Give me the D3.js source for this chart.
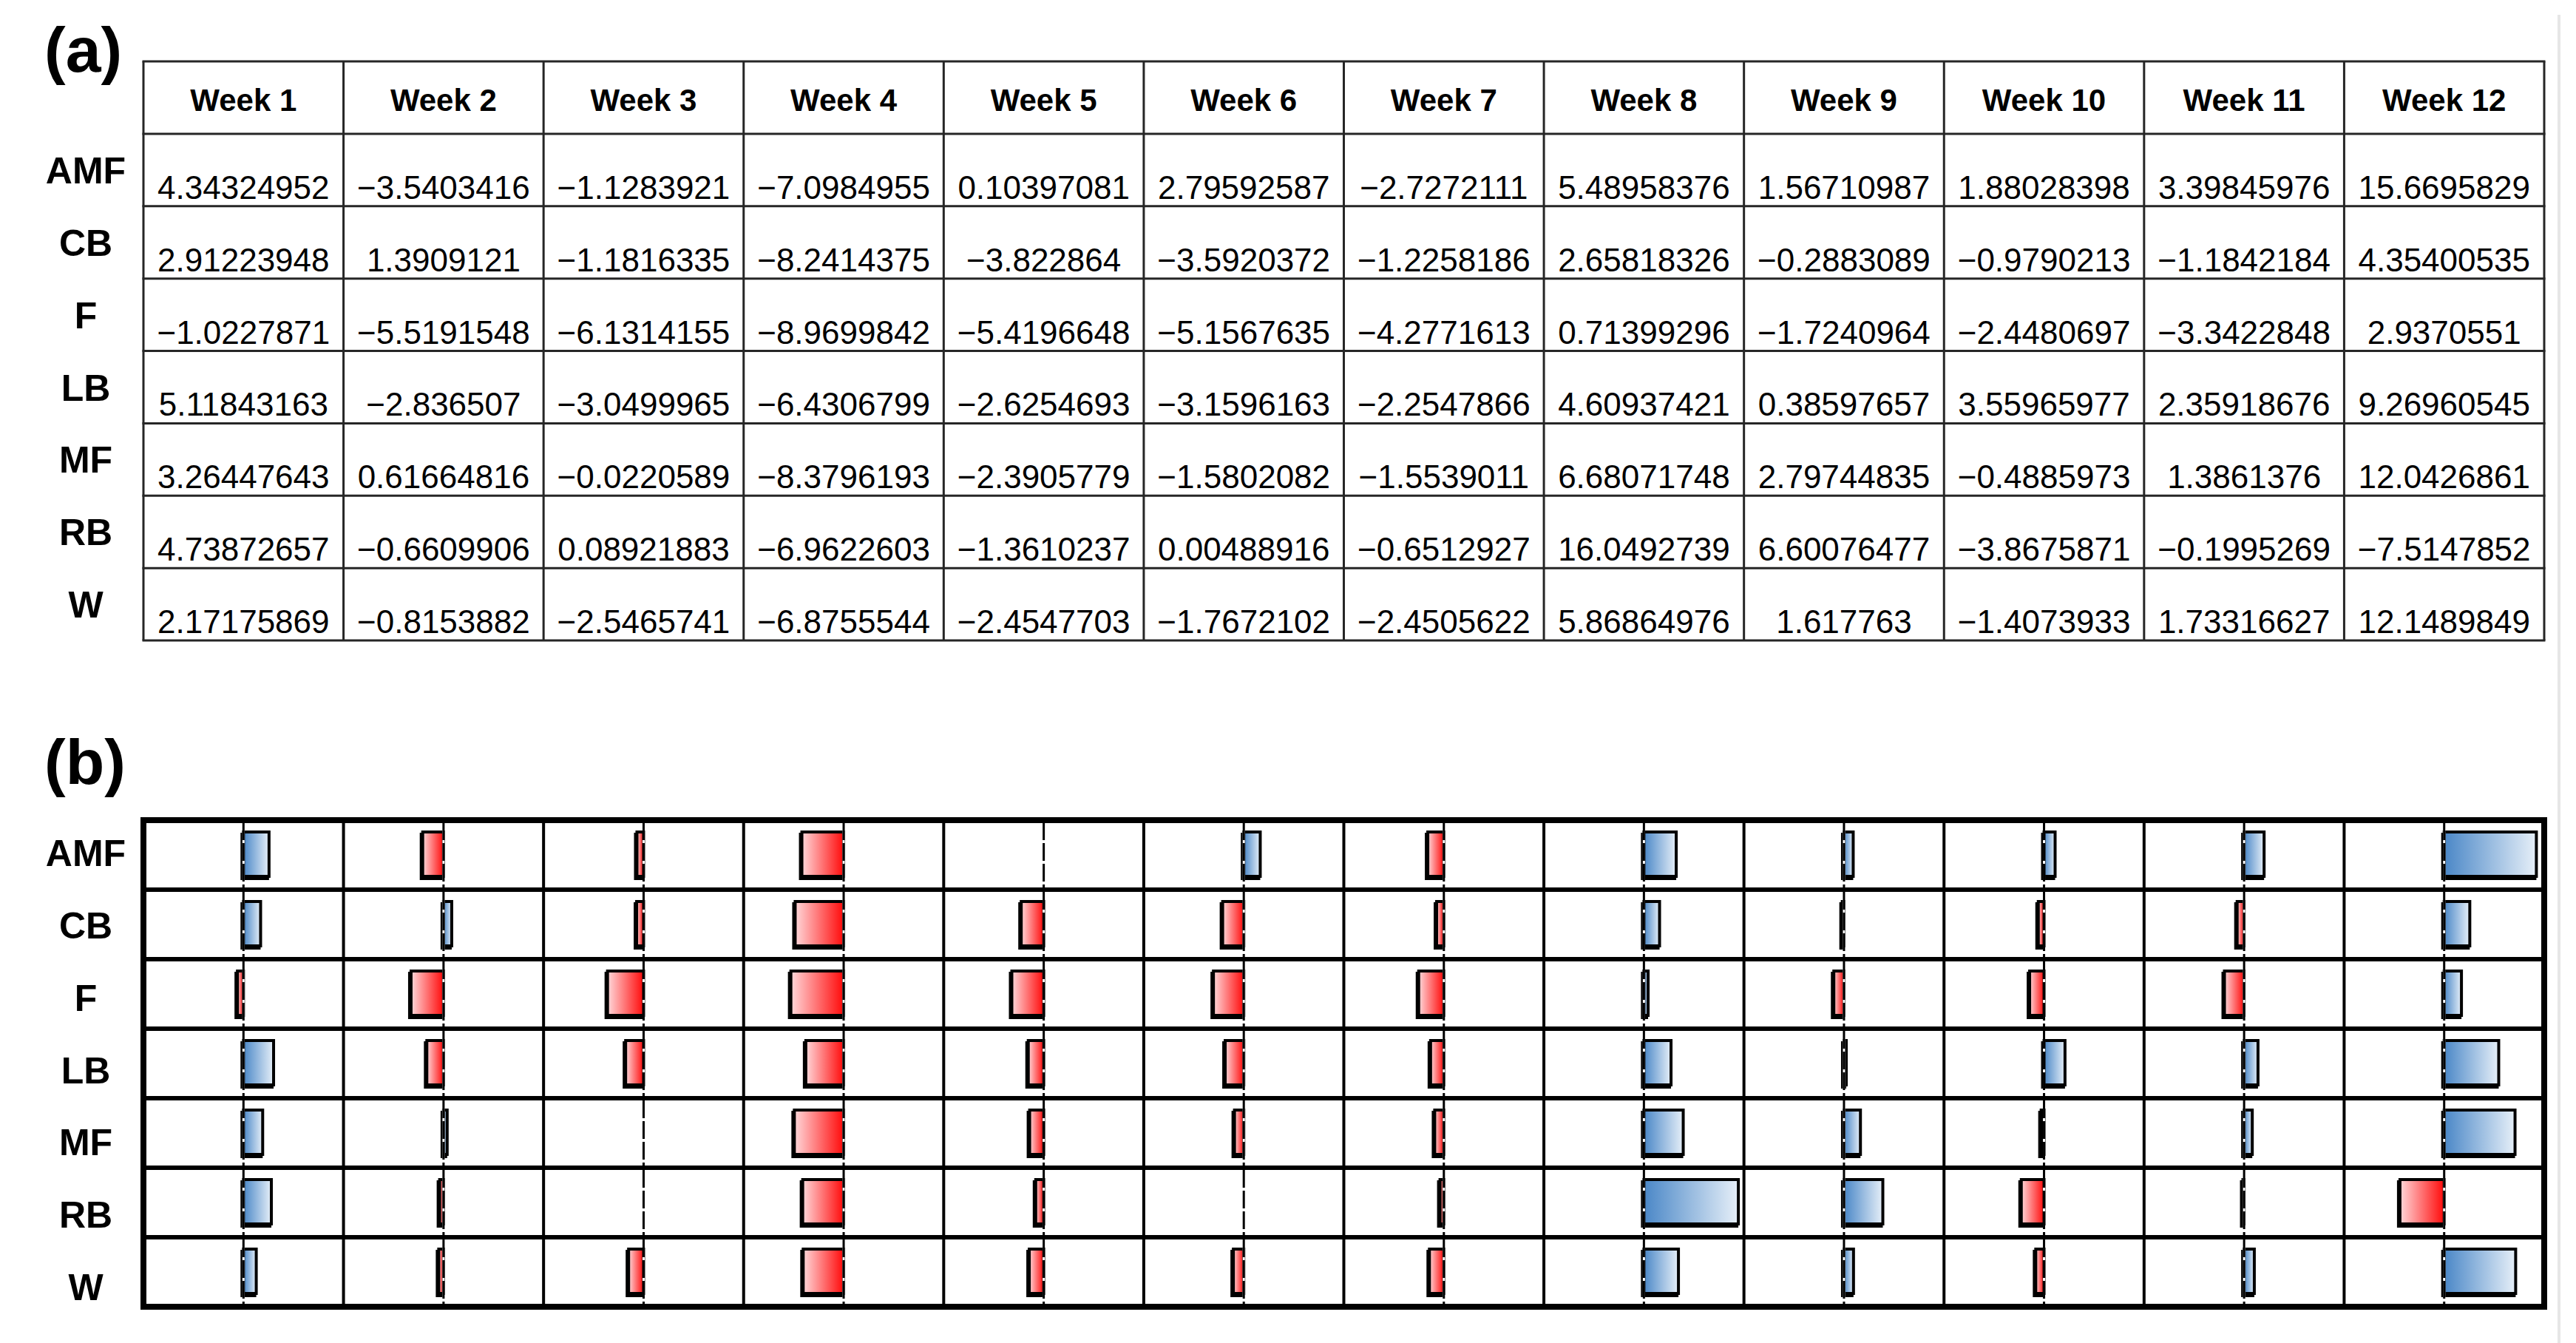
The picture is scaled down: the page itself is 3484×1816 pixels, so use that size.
<!DOCTYPE html>
<html>
<head>
<meta charset="utf-8">
<script src="https://cdn.jsdelivr.net/npm/d3@7"></script>
<style>
  html, body { margin: 0; padding: 0; background: #fff; }
  svg { display: block; }
  text { font-family: "Liberation Sans", Arial, Helvetica, sans-serif; fill: #000; }
</style>
</head>
<body>
<script>
// ---------- data ----------
const weeks = ["Week 1","Week 2","Week 3","Week 4","Week 5","Week 6","Week 7","Week 8","Week 9","Week 10","Week 11","Week 12"];
const groups = ["AMF","CB","F","LB","MF","RB","W"];
const amf = [4.34324952, -3.5403416, -1.1283921, -7.0984955, 0.10397081, 2.79592587, -2.7272111, 5.48958376, 1.56710987, 1.88028398, 3.39845976, 15.6695829];
const cb  = [2.91223948, 1.3909121, -1.1816335, -8.2414375, -3.822864, -3.5920372, -1.2258186, 2.65818326, -0.2883089, -0.9790213, -1.1842184, 4.35400535];
const f   = [-1.0227871, -5.5191548, -6.1314155, -8.9699842, -5.4196648, -5.1567635, -4.2771613, 0.71399296, -1.7240964, -2.4480697, -3.3422848, 2.9370551];
const lb  = [5.11843163, -2.836507, -3.0499965, -6.4306799, -2.6254693, -3.1596163, -2.2547866, 4.60937421, 0.38597657, 3.55965977, 2.35918676, 9.26960545];
const mf  = [3.26447643, 0.61664816, -0.0220589, -8.3796193, -2.3905779, -1.5802082, -1.5539011, 6.68071748, 2.79744835, -0.4885973, 1.3861376, 12.0426861];
const rb  = [4.73872657, -0.6609906, 0.08921883, -6.9622603, -1.3610237, 0.00488916, -0.6512927, 16.0492739, 6.60076477, -3.8675871, -0.1995269, -7.5147852];
const w   = [2.17175869, -0.8153882, -2.5465741, -6.8755544, -2.4547703, -1.7672102, -2.4505622, 5.86864976, 1.617763, -1.4073933, 1.73316627, 12.1489849];
const seriesList = [amf, cb, f, lb, mf, rb, w];
const valueDomain = [-17, 17];

// cells built from the arrays
const cells = [];
groups.forEach((g, gi) => weeks.forEach((wk, wi) => cells.push({group: g, week: wk, value: seriesList[gi][wi]})));

const fmt = v => String(v).replace("-", "\u2212");

// ---------- layout ----------
const W = 3484, H = 1816;
const svg = d3.select("body").append("svg").attr("width", W).attr("height", H);

const defs = svg.append("defs");
const gb = defs.append("linearGradient").attr("id", "gradBlue").attr("x1", "0").attr("x2", "1").attr("y1", "0").attr("y2", "0");
gb.append("stop").attr("offset", "0%").attr("stop-color", "#4a87c7");
gb.append("stop").attr("offset", "100%").attr("stop-color", "#e6eff8");
const gr = defs.append("linearGradient").attr("id", "gradRed").attr("x1", "0").attr("x2", "1").attr("y1", "0").attr("y2", "0");
gr.append("stop").attr("offset", "0%").attr("stop-color", "#ffd8da");
gr.append("stop").attr("offset", "100%").attr("stop-color", "#ff0a0a");

const x = d3.scaleBand().domain(weeks).range([194, 3441]);
const labelX = 116;
const labelSize = 50;

// faint page edge line
svg.append("line").attr("x1", 3461).attr("x2", 3461).attr("y1", 20).attr("y2", H)
  .attr("stroke", "#e6e6e6").attr("stroke-width", 4);

// ---------- panel (a): table ----------
const tTop = 83, tHead = 181, tBot = 866;
const yA = d3.scaleBand().domain(groups).range([tHead, tBot]);
const gA = svg.append("g");

gA.append("text").attr("x", 60).attr("y", 97).attr("font-size", 86).attr("font-weight", "bold").text("(a)");

// header text
gA.selectAll("text.hdr").data(weeks).join("text").attr("class", "hdr")
  .attr("x", d => x(d) + x.bandwidth() / 2).attr("y", 150)
  .attr("text-anchor", "middle").attr("font-size", 42).attr("font-weight", "bold")
  .text(d => d);

// row labels
gA.selectAll("text.rl").data(groups).join("text").attr("class", "rl")
  .attr("x", labelX).attr("y", d => yA(d) + yA.bandwidth() / 2 + 18)
  .attr("text-anchor", "middle").attr("font-size", labelSize).attr("font-weight", "bold")
  .text(d => d);

// values
gA.selectAll("text.val").data(cells).join("text").attr("class", "val")
  .attr("x", d => x(d.week) + x.bandwidth() / 2)
  .attr("y", d => yA(d.group) + yA.bandwidth() - 10)
  .attr("text-anchor", "middle").attr("font-size", 44)
  .text(d => fmt(d.value));

// table grid
const colEdges = weeks.map(d => x(d)).concat([x.range()[1]]);
const rowEdgesA = [tTop].concat(groups.map(d => yA(d))).concat([tBot]);
gA.selectAll("line.vg").data(colEdges).join("line").attr("class", "vg")
  .attr("x1", d => d).attr("x2", d => d).attr("y1", tTop).attr("y2", tBot)
  .attr("stroke", "#262626").attr("stroke-width", 3);
gA.selectAll("line.hg").data(rowEdgesA).join("line").attr("class", "hg")
  .attr("x1", x.range()[0] - 1.5).attr("x2", x.range()[1] + 1.5).attr("y1", d => d).attr("y2", d => d)
  .attr("stroke", "#262626").attr("stroke-width", 3);

// ---------- panel (b): bars ----------
const bTop = 1109, bBot = 1767;
const yB = d3.scaleBand().domain(groups).range([bTop, bBot]);
const yLabB = d3.scalePoint().domain(groups).range([1153, 1740]);
const v = d3.scaleLinear().domain(valueDomain).range([0, x.bandwidth()]);
const gB = svg.append("g");

gB.append("text").attr("x", 60).attr("y", 1060).attr("font-size", 86).attr("font-weight", "bold").text("(b)");

gB.selectAll("text.rl").data(groups).join("text").attr("class", "rl")
  .attr("x", labelX).attr("y", d => yLabB(d) + 18)
  .attr("text-anchor", "middle").attr("font-size", labelSize).attr("font-weight", "bold")
  .text(d => d);

// internal grid
const innerCols = weeks.slice(1).map(d => x(d));
gB.selectAll("line.vc").data(innerCols).join("line").attr("class", "vc")
  .attr("x1", d => d).attr("x2", d => d).attr("y1", bTop).attr("y2", bBot)
  .attr("stroke", "#000").attr("stroke-width", 4);
const innerRows = groups.slice(1).map(d => yB(d));
gB.selectAll("line.hr").data(innerRows).join("line").attr("class", "hr")
  .attr("x1", x.range()[0]).attr("x2", x.range()[1]).attr("y1", d => d).attr("y2", d => d)
  .attr("stroke", "#000").attr("stroke-width", 6);

const barH = 60;
const barX = d => x(d.week) + Math.min(v(0), v(d.value));
const barW = d => Math.abs(v(d.value) - v(0));
const barY = d => yB(d.group) + yB.bandwidth() / 2 - barH / 2 - 1;
// bars narrower than ~1.5px vanish under the dashed zero line in the original
const drawn = cells.filter(d => barW(d) >= 1.5);

// shadows
gB.selectAll("rect.sh").data(drawn).join("rect").attr("class", "sh")
  .attr("x", d => barX(d) - 2).attr("y", d => barY(d) + 3)
  .attr("width", barW).attr("height", barH)
  .attr("fill", "#000").attr("stroke", "#000").attr("stroke-width", 4);
// bars
gB.selectAll("rect.bar").data(drawn).join("rect").attr("class", "bar")
  .attr("x", barX).attr("y", barY)
  .attr("width", barW).attr("height", barH)
  .attr("fill", d => d.value >= 0 ? "url(#gradBlue)" : "url(#gradRed)")
  .attr("stroke", "#000").attr("stroke-width", 4);

// zero lines (dashed), one per cell
gB.selectAll("line.zw").data(cells).join("line").attr("class", "zw")
  .attr("x1", d => x(d.week) + v(0)).attr("x2", d => x(d.week) + v(0))
  .attr("y1", d => yB(d.group) + 3).attr("y2", d => yB(d.group) + yB.bandwidth() - 3)
  .attr("stroke", "#fff").attr("stroke-width", 3);
gB.selectAll("line.zero").data(cells).join("line").attr("class", "zero")
  .attr("x1", d => x(d.week) + v(0)).attr("x2", d => x(d.week) + v(0))
  .attr("y1", d => yB(d.group) + 3).attr("y2", d => yB(d.group) + yB.bandwidth() - 3)
  .attr("stroke", "#000").attr("stroke-width", 3).attr("stroke-dasharray", "24,4");

// outer frame
gB.append("rect").attr("x", x.range()[0]).attr("y", bTop)
  .attr("width", x.range()[1] - x.range()[0]).attr("height", bBot - bTop)
  .attr("fill", "none").attr("stroke", "#000").attr("stroke-width", 8);
</script>
</body>
</html>
